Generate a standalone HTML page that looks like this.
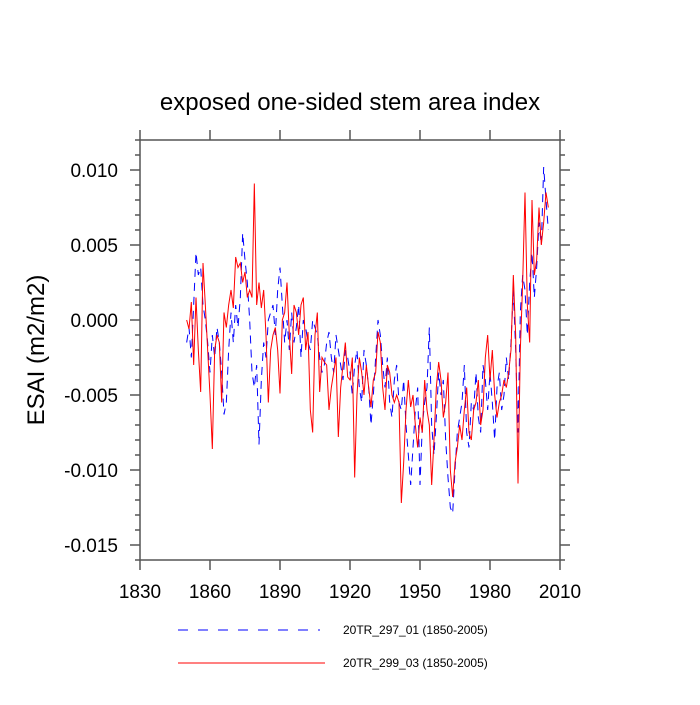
<!DOCTYPE html>
<html><head><meta charset="utf-8"><style>
body{margin:0;background:#fff}
svg text{font-family:"Liberation Sans",sans-serif}
</style></head><body>
<svg id="chart" width="700" height="700" xmlns="http://www.w3.org/2000/svg">
<text x="350" y="110" font-size="24" text-anchor="middle">exposed one-sided stem area index</text>
<text transform="translate(44,350) rotate(-90)" font-size="24" text-anchor="middle">ESAI  (m2/m2)</text>
<g id="axes"></g>
<g id="series"></g>
<line x1="178" y1="630" x2="320" y2="630" stroke="#0000ff" stroke-width="1" stroke-dasharray="10,10"/>
<text x="343" y="634" font-size="12">20TR_297_01 (1850-2005)</text>
<line x1="178" y1="663" x2="325" y2="663" stroke="#ff0000" stroke-width="1"/>
<text x="343" y="667" font-size="12">20TR_299_03 (1850-2005)</text>
</svg>
<script>
const xTicks=[1830,1860,1890,1920,1950,1980,2010];
const yTicks=[0.010,0.005,0.000,-0.005,-0.010,-0.015];
const yTickLabels=["0.010","0.005","0.000","-0.005","-0.010","-0.015"];
const startYear=1850;
const blue297=[-1.5,-0.5,-2.5,1.0,4.5,3.0,3.5,1.0,0.0,-1.5,-3.5,-1.0,-2.5,-0.5,-1.5,-3.5,-6.3,-5.5,-2.0,0.5,
-1.5,1.0,-0.5,1.5,5.8,4.0,2.5,0.0,-3.5,-4.5,-3.0,-8.3,-4.0,-1.5,-2.5,0.0,0.5,1.0,-1.0,2.0,
3.5,1.0,-1.5,0.0,-2.0,0.5,-1.5,-0.5,1.0,-2.5,0.0,-0.5,-1.5,-2.0,0.0,-0.5,-1.0,-2.5,-3.5,-3.0,
-1.5,-0.8,-2.5,-3.5,-1.0,-2.0,-3.0,-4.0,-2.0,-2.5,-3.5,-5.0,-3.0,-2.0,-4.5,-5.5,-2.0,-3.0,-4.5,-7.0,
-5.0,-2.5,0.0,-1.0,-3.0,-4.5,-2.5,-5.5,-6.5,-4.0,-3.0,-5.5,-6.0,-4.0,-7.0,-9.0,-11.0,-8.5,-6.0,-4.5,
-11.0,-7.0,-5.5,-4.5,-0.5,-7.0,-9.0,-6.5,-3.5,-5.0,-4.0,-8.0,-10.5,-12.5,-12.9,-10.0,-7.5,-6.5,-5.5,-3.0,
-7.5,-8.5,-5.5,-6.0,-3.5,-6.5,-7.5,-3.0,-4.0,-6.0,-3.5,-5.5,-8.0,-4.5,-3.5,-6.0,-5.0,-2.5,-4.0,-1.5,
2.0,-2.0,-7.5,0.5,3.0,2.0,-1.0,2.5,4.5,1.5,3.5,6.5,5.0,10.2,8.0,6.0];
const red299=[0,-0.6,1.2,-3.0,1.5,-2.0,-4.8,3.8,1.0,-2.0,-5.0,-8.6,-2.0,-1.0,-1.5,-5.5,0.5,-0.5,1.0,2.0,
0.8,4.2,3.5,3.8,2.5,3.2,1.5,2.0,1.5,9.1,1.0,2.5,0.8,2.0,-1.0,-5.5,-2.0,-1.0,-0.5,-2.0,
-4.9,0.0,0.5,2.5,-1.0,-3.6,1.0,0.5,-1.0,1.0,1.5,-2.0,-0.8,-6.0,-7.5,-1.0,0.5,-4.8,-2.5,-2.8,
-3.0,-6.0,-4.5,-3.5,-2.5,-7.8,-4.5,-3.0,-1.5,-3.8,-4.0,-2.5,-10.5,-5.0,-2.5,-3.5,-5.0,-3.0,-4.5,-5.8,
-4.0,-3.5,-0.8,-1.5,-4.5,-6.0,-3.0,-3.5,-5.0,-5.5,-5.0,-5.5,-12.2,-9.5,-6.0,-4.0,-5.8,-5.0,-7.0,-8.5,
-6.5,-7.5,-4.0,-6.0,-7.0,-11.0,-8.0,-4.5,-2.8,-4.0,-6.5,-5.5,-3.5,-10.0,-11.8,-9.5,-8.5,-7.0,-8.0,-6.0,
-4.5,-7.5,-8.0,-6.0,-5.5,-4.0,-7.0,-6.0,-2.5,-1.0,-4.0,-2.0,-5.0,-6.5,-5.5,-5.0,-4.0,-4.5,-3.5,-2.0,
3.0,-1.0,-10.9,-2.0,2.5,8.5,1.0,-1.5,8.0,3.0,4.0,7.5,5.0,6.5,8.5,7.5];
const L=140,R=560,T=140,B=560,X0=1830,X1=2010,Y0=-0.016,Y1=0.012;
const sx=v=>L+(v-X0)/(X1-X0)*(R-L);
const sy=v=>B-(v-Y0)/(Y1-Y0)*(B-T);
const NS="http://www.w3.org/2000/svg";
const ax=document.getElementById('axes'),sg=document.getElementById('series');
function mk(tag,at,par){const e=document.createElementNS(NS,tag);for(const k in at)e.setAttribute(k,at[k]);par.appendChild(e);return e;}
const box=mk('rect',{x:L,y:T,width:R-L,height:B-T,fill:'none',stroke:'#555','stroke-width':1.5},ax);


xTicks.forEach(t=>{const x=sx(t);
 mk('line',{x1:x,y1:B,x2:x,y2:B+10,stroke:'#555','stroke-width':1.5},ax);
 mk('line',{x1:x,y1:T,x2:x,y2:T-10,stroke:'#555','stroke-width':1.5},ax);
 const tx=mk('text',{x:x,y:B+38,'font-size':19,'text-anchor':'middle'},ax);tx.textContent=t;
 
 });
for(let i=-16;i<=12;i++){const v=i/1000,y=sy(v),major=(i%5===0);const len=major?10:5;
 mk('line',{x1:L,y1:y,x2:L-len,y2:y,stroke:'#555','stroke-width':1.5},ax);
 mk('line',{x1:R,y1:y,x2:R+len,y2:y,stroke:'#555','stroke-width':1.5},ax);}
yTicks.forEach((t,i)=>{const tx=mk('text',{x:L-22,y:sy(t)+7,'font-size':19,'text-anchor':'end'},ax);tx.textContent=yTickLabels[i];
 
 });
function line(arr,color,dash,name){const d=arr.map((v,i)=>(i?'L':'M')+sx(startYear+i).toFixed(2)+','+sy(v/1000).toFixed(2)).join('');
 const p=mk('path',{d:d,fill:'none',stroke:color,'stroke-width':1},sg);if(dash)p.setAttribute('stroke-dasharray',dash);
 
 }
line(blue297,'#0000ff','8,6','series-20TR_297_01');
line(red299,'#ff0000',null,'series-20TR_299_03');
</script>
</body></html>
